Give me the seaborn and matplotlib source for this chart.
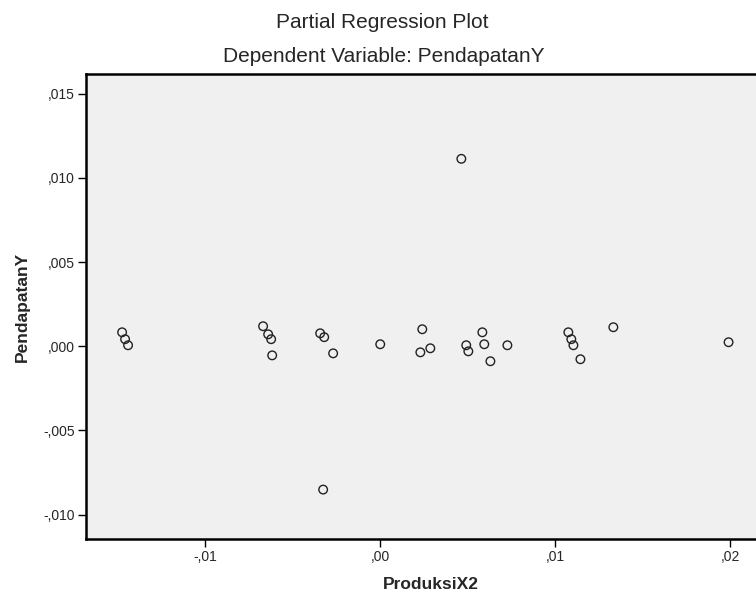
import matplotlib
matplotlib.use("Agg")
import matplotlib.pyplot as plt
import seaborn as sns
import pandas as pd

# Partial residuals (SPSS-style partial regression plot)
x_resid = [-0.01474, -0.01457, -0.0144, -0.00669, -0.0064, -0.00623, -0.00617,
           -0.00343, -0.0032, -0.00269, 0.0, 0.0024, 0.00229, 0.00286,
           0.00491, 0.00503, 0.00583, 0.00594, 0.00629, 0.00726,
           0.01074, 0.01091, 0.01103, 0.01143, 0.01331, 0.01989,
           0.00463, -0.00326]
y_resid = [0.00083, 0.00042, 0.00006, 0.00119, 0.00071, 0.00042, -0.00054,
           0.00077, 0.00054, -0.00042, 0.00012, 0.00101, -0.00036, -0.00012,
           0.00006, -0.0003, 0.00083, 0.00012, -0.00089, 0.00006,
           0.00083, 0.00042, 0.00006, -0.00077, 0.00113, 0.00024,
           0.01113, -0.00851]

x_ticks = [-0.01, 0.0, 0.01, 0.02]
x_tick_labels = ["-,01", ",00", ",01", ",02"]
y_ticks = [-0.010, -0.005, 0.0, 0.005, 0.010, 0.015]
y_tick_labels = ["-,010", "-,005", ",000", ",005", ",010", ",015"]

df = pd.DataFrame({"ProduksiX2": x_resid, "PendapatanY": y_resid})

sns.set_theme(style="white")
plt.rcParams["font.family"] = ["Liberation Sans", "DejaVu Sans"]

fig = plt.figure(figsize=(7.56, 5.99), dpi=100)
ax = fig.add_axes([0.1138, 0.100, 0.912, 0.776])
ax.set_facecolor("#f0f0f0")

sns.scatterplot(data=df, x="ProduksiX2", y="PendapatanY", ax=ax,
                marker="o", s=38, facecolor="none", edgecolor="#222222",
                linewidth=1.0)

ax.set_xlim(-0.0168, 0.02257)
ax.set_ylim(-0.01145, 0.01615)
ax.set_xticks(x_ticks)
ax.set_xticklabels(x_tick_labels, fontsize=10)
ax.set_yticks(y_ticks)
ax.set_yticklabels(y_tick_labels, fontsize=10)
ax.tick_params(axis="both", direction="out", length=6, width=1, color="black",
               bottom=True, left=True, pad=2)

for side in ["left", "bottom", "top", "right"]:
    ax.spines[side].set_color("black")
    ax.spines[side].set_linewidth(1.8)

ax.set_xlabel("ProduksiX2", fontsize=12.5, fontweight="bold", labelpad=9)
ax.set_ylabel("PendapatanY", fontsize=12.5, fontweight="bold", labelpad=10)

fig.text(0.505, 0.962, "Partial Regression Plot", ha="center", va="center",
         fontsize=15)
fig.text(0.507, 0.905, "Dependent Variable: PendapatanY", ha="center",
         va="center", fontsize=15)

fig.savefig("out.png", dpi=100)
